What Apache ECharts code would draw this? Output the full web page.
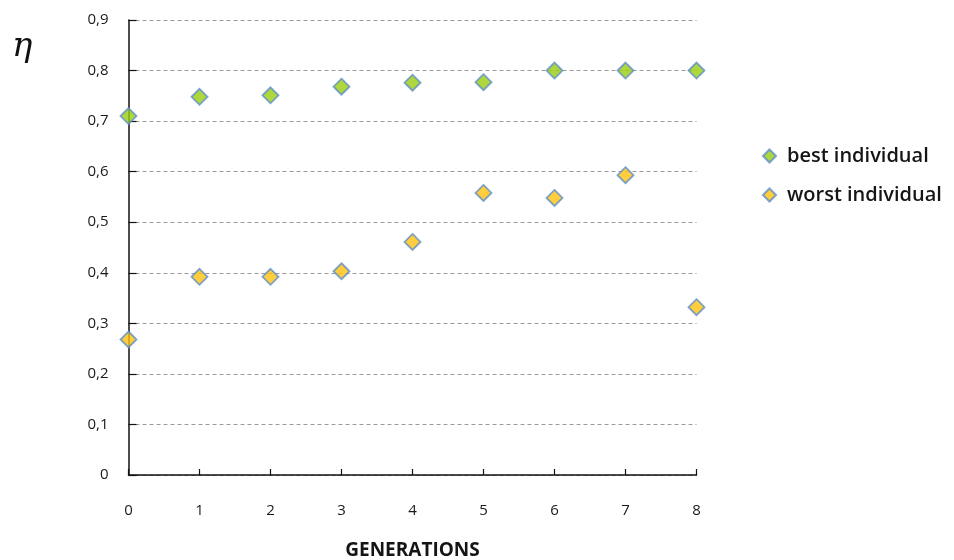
<!DOCTYPE html>
<html>
<head>
<meta charset="utf-8">
<script src="https://cdn.jsdelivr.net/npm/echarts@6/dist/echarts.min.js"></script>
<style>
  html, body { margin: 0; padding: 0; background: #fff; }
  #chart { width: 954px; height: 560px; }
</style>
</head>
<body>
<div id="chart"></div>
<script>
// Generation index on the x axis
const generations = [0, 1, 2, 3, 4, 5, 6, 7, 8];
// Efficiency of the best and the worst individual per generation
const bestIndividual = [0.71, 0.748, 0.751, 0.768, 0.776, 0.777, 0.80, 0.80, 0.80];
const worstIndividual = [0.268, 0.392, 0.392, 0.403, 0.461, 0.558, 0.548, 0.593, 0.332];
const seriesNames = ['best individual', 'worst individual'];

const pairs = (ys) => generations.map((g, i) => [g, ys[i]]);

const chart = echarts.init(document.getElementById('chart'));
const labelFont = '"Open Sans", "Noto Sans", sans-serif';

chart.setOption({
  animation: false,
  backgroundColor: '#ffffff',
  grid: { left: 128.5, right: 257.5, top: 20, bottom: 85, containLabel: false, outerBoundsMode: 'none' },
  legend: {
    orient: 'vertical',
    left: 757,
    top: 141,
    itemGap: 19,
    itemWidth: 13,
    itemHeight: 13,
    icon: 'diamond',
    textStyle: { fontFamily: labelFont, fontSize: 20, fontWeight: 600, color: '#151515', padding: [0, 0, 0, 6] },
    data: seriesNames
  },
  graphic: [{
    type: 'text',
    left: 12,
    top: 30,
    style: { text: 'η', font: 'italic 34px "DejaVu Serif", "Liberation Serif", serif', fill: '#111' }
  }],
  xAxis: {
    type: 'value',
    min: 0,
    max: 8,
    interval: 1,
    name: 'GENERATIONS',
    nameLocation: 'middle',
    nameGap: 66,
    nameTextStyle: { fontFamily: labelFont, fontSize: 19, fontWeight: 700, color: '#151515' },
    axisLine: { show: true, lineStyle: { color: '#111', width: 1.5 } },
    axisTick: { show: true, inside: true, length: 6, lineStyle: { color: '#111', width: 1.2 } },
    axisLabel: { margin: 28, fontFamily: labelFont, fontSize: 15, color: '#1a1a1a' },
    splitLine: { show: false }
  },
  yAxis: {
    type: 'value',
    min: 0,
    max: 0.9,
    interval: 0.1,
    axisLine: { show: true, lineStyle: { color: '#111', width: 1.5 } },
    axisTick: { show: true, inside: true, length: 8, lineStyle: { color: '#111', width: 1.2 } },
    axisLabel: {
      margin: 20,
      fontFamily: labelFont,
      fontSize: 15,
      color: '#1a1a1a',
      formatter: (v) => v === 0 ? '0' : v.toFixed(1).replace('.', ',')
    },
    splitLine: { show: true, lineStyle: { color: '#9a9a9a', type: [4, 3], width: 1.2 } }
  },
  series: [
    {
      name: seriesNames[0],
      type: 'scatter',
      symbol: 'diamond',
      symbolSize: 16,
      itemStyle: { color: '#9ACD0E', borderColor: '#5F8FC8', borderWidth: 1.8 },
      data: pairs(bestIndividual),
      z: 3
    },
    {
      name: seriesNames[1],
      type: 'scatter',
      symbol: 'diamond',
      symbolSize: 16,
      itemStyle: { color: '#FFC20E', borderColor: '#5F8FC8', borderWidth: 1.8 },
      data: pairs(worstIndividual),
      z: 3
    }
  ]
});
</script>
</body>
</html>
